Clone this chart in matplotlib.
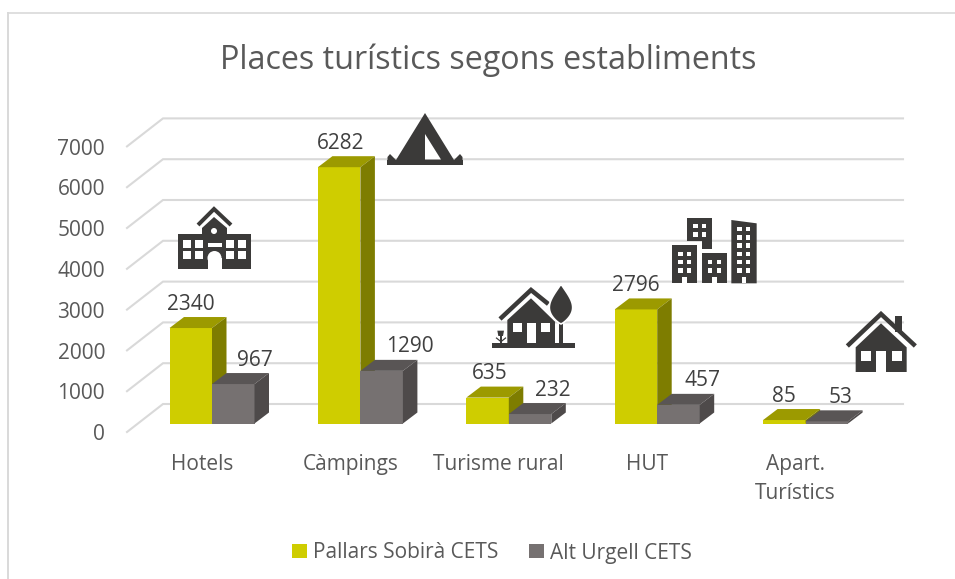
import numpy as np
from matplotlib import pyplot as plt
from matplotlib.patches import Polygon, Rectangle, Circle, Patch

categories = ['Hotels', 'Càmpings', 'Turisme rural', 'HUT', 'Apart.\nTurístics']
pallars = [2340, 6282, 635, 2796, 85]
urgell = [967, 1290, 232, 457, 53]
yticks = [0, 1000, 2000, 3000, 4000, 5000, 6000, 7000]
series_names = ['Pallars Sobirà CETS', 'Alt Urgell CETS']

# pixel layout
W, H = 955, 579
X0, XSTEP = 212.0, 148.4
Y0, YSCALE = 423.5, 0.0408
BAR_W = 42.5 / XSTEP
DX, DY = 14.5 / XSTEP, 11 / YSCALE

YEL = ('#CFCD00', '#9C9A00', '#7E7D00')
GRY = ('#767171', '#595555', '#4E4A4A')
DARK = '#3B3A39'
GRID = '#D9D9D9'

plt.rcParams['font.family'] = ['Open Sans', 'DejaVu Sans']
fig = plt.figure(figsize=(W / 100, H / 100), dpi=100)
ax = fig.add_axes([0, 0, 1, 1])
ax.set_xlim(-X0 / XSTEP, (W - X0) / XSTEP)
ax.set_ylim(-(H - Y0) / YSCALE, Y0 / YSCALE)
ax.axis('off')

# overlay in pixels, for the frame and the icons
px = fig.add_axes([0, 0, 1, 1], zorder=5)
px.set_xlim(0, W)
px.set_ylim(H, 0)
px.axis('off')
px.patch.set_alpha(0)


def xpx(p):
    return (p - X0) / XSTEP


# back wall grid
floor = -8.5 / YSCALE
for v in yticks:
    y_front = v + floor
    y_back = y_front + 28 / YSCALE
    ax.plot([xpx(127), xpx(163), xpx(903)], [y_front, y_back, y_back],
            color=GRID, lw=1.5, zorder=1, solid_joinstyle='miter')
    ax.annotate(str(v), (xpx(105), y_front), xytext=(0, -2), textcoords='offset points',
                ha='right', va='center', fontsize=15, color='#595959')


def bar3d(x, v, cols):
    ax.bar(x, v, BAR_W, align='edge', color=cols[0], zorder=3, linewidth=0)
    ax.add_patch(Polygon([(x, v), (x + BAR_W, v), (x + BAR_W + DX, v + DY), (x + DX, v + DY)],
                         closed=True, fc=cols[1], ec='none', zorder=3))
    ax.add_patch(Polygon([(x + BAR_W, 0), (x + BAR_W + DX, DY), (x + BAR_W + DX, v + DY), (x + BAR_W, v)],
                         closed=True, fc=cols[2], ec='none', zorder=3))


label_dx = [[0, 1, 2, 0, 0], [22, 28, 23, 24, 14]]
for i, cat in enumerate(categories):
    bar3d(i - BAR_W, pallars[i], YEL)
    bar3d(i, urgell[i], GRY)
    ax.annotate(str(pallars[i]), (i - BAR_W / 2, pallars[i]),
                xytext=(label_dx[0][i] * 0.72, 24 * 0.72), textcoords='offset points',
                ha='center', va='center', fontsize=15, color='#404040', zorder=6)
    ax.annotate(str(urgell[i]), (i + BAR_W / 2, urgell[i]),
                xytext=(label_dx[1][i] * 0.72, 24 * 0.72), textcoords='offset points',
                ha='center', va='center', fontsize=15, color='#404040', zorder=6)
    lines = cat.split('\n')
    for j, t in enumerate(lines):
        px.text(X0 + XSTEP * i - 10, 464.5 + 29 * j, t, ha='center', va='center',
                fontsize=15, color='#595959')

fig.text(488 / W, 1 - 60.5 / H, 'Places turístics segons establiments',
         ha='center', va='center', fontsize=23.2, color='#595959')

handles = [Patch(fc=YEL[0], ec='none'), Patch(fc=GRY[0], ec='none')]
fig.legend(handles, series_names, loc='center', bbox_to_anchor=(492 / W, 1 - 553 / H), ncol=2,
           frameon=False, fontsize=15, labelcolor='#595959', handlelength=0.68, handleheight=0.68,
           handletextpad=0.3, columnspacing=1.5)

# chart frame
px.plot([8, 8], [579, 13], color=GRID, lw=1.4)
px.plot([8, 955], [13.3, 13.3], color=GRID, lw=1.2)


def poly(pts, c=DARK):
    px.add_patch(Polygon(pts, closed=True, fc=c, ec='none'))


def rect(x0, y0, x1, y1, c=DARK):
    px.add_patch(Rectangle((x0, y0), x1 - x0, y1 - y0, fc=c, ec='none'))


def chevron(pts, lw):
    xs, ys = zip(*pts)
    px.plot(xs, ys, color=DARK, lw=lw * 0.72, solid_joinstyle='miter', solid_capstyle='butt')


# school
rect(178, 234, 251, 269)
rect(202, 228, 227, 269)
poly([(202, 228), (214, 217), (227, 228)])
chevron([(198, 225), (214, 209), (231, 225)], 4)
px.add_patch(Circle((214, 231), 3, fc='white', ec='none'))
for wx in (183, 194.5, 226, 238):
    for wy in (239.5, 251):
        rect(wx, wy, wx + 8, wy + 8, 'white')
rect(207.5, 243, 222, 247, 'white')
rect(207.5, 258, 221.5, 269, 'white')
px.add_patch(Circle((214.5, 258), 7, fc='white', ec='none'))

# tent
poly([(425, 113), (454, 160), (396, 160)])
rect(387, 160, 463.3, 165.3)
poly([(387.5, 157), (390, 154), (397, 161), (387.5, 161)])
poly([(462.5, 157), (460, 154), (453, 161), (462.5, 161)])
poly([(425, 134), (441, 159.5), (425, 159.5)], 'white')


def x3(v):
    return 300 + v / 3


def y3(v):
    return 100 + v / 3


# rural house
rect(x3(577), y3(729), x3(825), y3(745))
poly([(x3(622), y3(660)), (x3(693), y3(595)), (x3(765), y3(665)), (x3(765), y3(729)), (x3(622), y3(729))])
chevron([(x3(600), y3(657)), (x3(693), y3(570)), (x3(745), y3(612))], 4.5)
rect(x3(638), y3(670), x3(666), y3(697), 'white')
rect(x3(680), y3(670), x3(708), y3(729), 'white')
rect(x3(722), y3(670), x3(750), y3(697), 'white')
s = np.linspace(0, 1, 40)
half = 35 * np.sin(np.pi * s ** 1.3) ** 0.8
tree = [(x3(783 + h), y3(552 + 120 * a)) for a, h in zip(s, half)]
tree += [(x3(783 - h), y3(552 + 120 * a)) for a, h in zip(s[::-1], half[::-1])]
px.add_patch(Polygon(tree, closed=True, fc=DARK, ec='white', lw=1.2, zorder=4))
rect(x3(777), y3(650), x3(789), y3(729))
rect(x3(600), y3(705), x3(606), y3(729))
poly([(x3(592), y3(692)), (x3(612), y3(692)), (x3(609), y3(708)), (x3(595), y3(708))])
chevron([(x3(588), y3(713)), (x3(603), y3(725)), (x3(618), y3(713))], 1.2)


def x4(v):
    return 640 + v / 3


def y4(v):
    return 200 + v / 3


def windows(xs, ys):
    for wx in xs:
        for wy in ys:
            rect(x4(wx), y4(wy), x4(wx + 13), y4(wy + 13), 'white')


# city buildings
rect(x4(96), y4(135), x4(172), y4(250))
rect(x4(186), y4(160), x4(261), y4(250))
poly([(x4(274), y4(60)), (x4(350), y4(70)), (x4(350), y4(250)), (x4(274), y4(250))])
poly([(x4(141), y4(53)), (x4(217), y4(53)), (x4(217), y4(148)), (x4(186), y4(148)),
      (x4(186), y4(123)), (x4(141), y4(123))])
windows((115, 141), (155, 180, 205))
windows((204, 230), (180, 205))
windows((292, 318), (81, 106, 130, 155, 180, 205))
windows((160, 185), (72, 97))
for dx in (127, 217, 305):
    rect(x4(dx), y4(232), x4(dx + 14), y4(250), 'white')

# house
chevron([(x4(622), y4(438)), (x4(723), y4(342)), (x4(826), y4(438))], 4.5)
rect(x4(765), y4(348), x4(785), y4(395))
poly([(x4(647), y4(442)), (x4(723), y4(370)), (x4(800), y4(442)), (x4(800), y4(516)), (x4(647), y4(516))])
rect(x4(663), y4(452), x4(693), y4(484), 'white')
rect(x4(755), y4(452), x4(785), y4(484), 'white')
rect(x4(708), y4(452), x4(739), y4(516), 'white')

plt.savefig('out.png', dpi=100)
